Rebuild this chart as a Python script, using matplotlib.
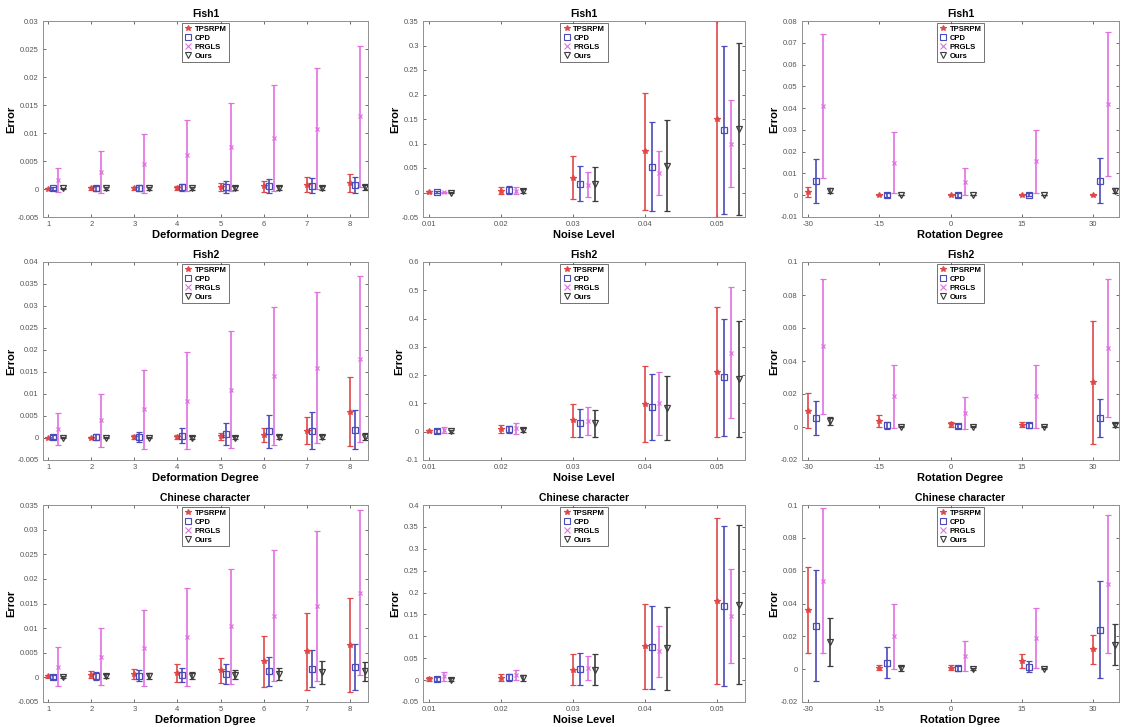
import numpy as np
import matplotlib
matplotlib.use('Agg')
import matplotlib.pyplot as plt
from matplotlib.lines import Line2D
from matplotlib.ticker import FuncFormatter

plt.rcParams['font.family'] = ['Liberation Sans', 'DejaVu Sans']

methods = ['TPSRPM', 'CPD', 'PRGLS', 'Ours']
colors = ['#e04848', '#4a4ab8', '#e070e0', '#3c3c3c']
markers = ['*', 's', 'x', 'v']

deform_levels = [1, 2, 3, 4, 5, 6, 7, 8]
noise_levels = [0.01, 0.02, 0.03, 0.04, 0.05]
rot_levels = [-30, -15, 0, 15, 30]

# rows: TPSRPM, CPD, PRGLS, Ours
fish1_def_mean = [[0.00002, 0.0001, 0.0001, 0.0002, 0.0003, 0.0005, 0.0008, 0.001],
                  [0.0001, 0.0001, 0.0002, 0.0003, 0.0003, 0.0005, 0.0006, 0.0007],
                  [0.0016, 0.003, 0.0045, 0.006, 0.0075, 0.0091, 0.0108, 0.013],
                  [0.0001, 0.0001, 0.0001, 0.0001, 0.0002, 0.0002, 0.0002, 0.0003]]
fish1_def_std = [[0.0001, 0.0002, 0.0003, 0.0004, 0.0007, 0.001, 0.0013, 0.0016],
                 [0.0003, 0.0004, 0.0005, 0.0006, 0.0011, 0.0012, 0.0014, 0.0015],
                 [0.0021, 0.0037, 0.0053, 0.0063, 0.0078, 0.0094, 0.0108, 0.0126],
                 [0.0001, 0.0002, 0.0002, 0.0002, 0.0003, 0.0003, 0.0004, 0.0004]]

fish1_noise_mean = [[0.001, 0.004, 0.03, 0.084, 0.15],
                    [0.001, 0.005, 0.018, 0.053, 0.128],
                    [0.0005, 0.004, 0.016, 0.04, 0.1],
                    [0.0, 0.003, 0.017, 0.055, 0.13]]
fish1_noise_std = [[0.002, 0.008, 0.044, 0.12, 0.2],
                   [0.003, 0.008, 0.036, 0.091, 0.172],
                   [0.001, 0.007, 0.026, 0.045, 0.088],
                   [0.002, 0.005, 0.035, 0.093, 0.175]]

fish1_rot_mean = [[0.0015, 0.0001, 0.0001, 0.0001, 0.0001],
                  [0.0065, 0.0002, 0.0002, 0.0003, 0.0067],
                  [0.041, 0.015, 0.0063, 0.0155, 0.042],
                  [0.0021, 0.0001, 0.0001, 0.0001, 0.002]]
fish1_rot_std = [[0.0025, 0.0002, 0.0002, 0.0002, 0.0002],
                 [0.0102, 0.0008, 0.0008, 0.0008, 0.0103],
                 [0.033, 0.014, 0.0063, 0.0145, 0.033],
                 [0.0012, 0.0002, 0.0002, 0.0002, 0.0012]]

fish2_def_mean = [[0.0, 0.0001, 0.0002, 0.0002, 0.0004, 0.0007, 0.0017, 0.006],
                  [0.0002, 0.0002, 0.0003, 0.0005, 0.0009, 0.0015, 0.0017, 0.0019],
                  [0.002, 0.004, 0.0065, 0.0085, 0.011, 0.014, 0.016, 0.018],
                  [0.0001, 0.0001, 0.0001, 0.0001, 0.0001, 0.0002, 0.0002, 0.0003]]
fish2_def_std = [[0.0001, 0.0002, 0.0004, 0.0005, 0.0008, 0.0016, 0.003, 0.0078],
                 [0.0004, 0.0006, 0.0011, 0.0017, 0.0026, 0.0038, 0.0042, 0.0044],
                 [0.0037, 0.006, 0.009, 0.011, 0.0133, 0.0157, 0.0172, 0.0188],
                 [0.0001, 0.0002, 0.0002, 0.0003, 0.0003, 0.0004, 0.0005, 0.0008]]

fish2_noise_mean = [[0.002, 0.01, 0.04, 0.098, 0.21],
                    [0.002, 0.008, 0.032, 0.087, 0.192],
                    [0.005, 0.012, 0.038, 0.1, 0.28],
                    [0.001, 0.006, 0.03, 0.083, 0.188]]
fish2_noise_std = [[0.004, 0.014, 0.058, 0.133, 0.23],
                   [0.006, 0.012, 0.05, 0.118, 0.208],
                   [0.01, 0.02, 0.05, 0.11, 0.23],
                   [0.004, 0.007, 0.048, 0.113, 0.205]]

fish2_rot_mean = [[0.01, 0.0035, 0.0018, 0.0015, 0.027],
                  [0.0055, 0.001, 0.0008, 0.001, 0.0055],
                  [0.049, 0.0185, 0.0085, 0.0185, 0.048],
                  [0.0035, 0.0002, 0.0002, 0.0002, 0.0012]]
fish2_rot_std = [[0.0105, 0.0035, 0.0015, 0.0015, 0.0375],
                 [0.0105, 0.0022, 0.0012, 0.0015, 0.0115],
                 [0.041, 0.019, 0.0098, 0.019, 0.042],
                 [0.0025, 0.0003, 0.0003, 0.0003, 0.0015]]

chn_def_mean = [[0.0002, 0.0005, 0.0006, 0.0009, 0.0014, 0.0033, 0.0053, 0.0066],
                [0.0001, 0.0002, 0.0003, 0.0005, 0.0007, 0.0012, 0.0018, 0.0021],
                [0.0022, 0.0042, 0.006, 0.0082, 0.0104, 0.0125, 0.0145, 0.0172],
                [0.0001, 0.0002, 0.0002, 0.0003, 0.0005, 0.0007, 0.001, 0.0012]]
chn_def_std = [[0.0003, 0.0007, 0.001, 0.0018, 0.0026, 0.0052, 0.0078, 0.0095],
               [0.0004, 0.0008, 0.0011, 0.0014, 0.0021, 0.0029, 0.0038, 0.0046],
               [0.004, 0.0058, 0.0077, 0.0099, 0.0117, 0.0133, 0.0152, 0.0168],
               [0.0002, 0.0004, 0.0006, 0.0007, 0.0009, 0.0012, 0.0024, 0.002]]

chn_noise_mean = [[0.002, 0.005, 0.024, 0.077, 0.18],
                  [0.002, 0.006, 0.025, 0.075, 0.17],
                  [0.009, 0.012, 0.027, 0.066, 0.146],
                  [0.001, 0.005, 0.024, 0.073, 0.172]]
chn_noise_std = [[0.004, 0.008, 0.036, 0.098, 0.19],
                 [0.005, 0.008, 0.037, 0.095, 0.183],
                 [0.01, 0.012, 0.027, 0.058, 0.107],
                 [0.004, 0.006, 0.035, 0.095, 0.182]]

chn_rot_mean = [[0.036, 0.001, 0.001, 0.0048, 0.012],
                [0.0265, 0.004, 0.0005, 0.0015, 0.024],
                [0.054, 0.02, 0.008, 0.019, 0.052],
                [0.0165, 0.0005, 0.0002, 0.0002, 0.015]]
chn_rot_std = [[0.026, 0.0015, 0.0015, 0.0042, 0.009],
               [0.034, 0.0095, 0.0015, 0.0035, 0.0295],
               [0.044, 0.02, 0.009, 0.0185, 0.042],
               [0.0145, 0.0015, 0.0005, 0.0004, 0.0125]]

titles = ['Fish1', 'Fish2', 'Chinese character']
xlabels = [['Deformation Degree', 'Noise Level', 'Rotation Degree'],
           ['Deformation Degree', 'Noise Level', 'Rotation Degree'],
           ['Deformation Dgree', 'Noise Level', 'Rotation Dgree']]

panels = [
    [(fish1_def_mean, fish1_def_std), (fish1_noise_mean, fish1_noise_std), (fish1_rot_mean, fish1_rot_std)],
    [(fish2_def_mean, fish2_def_std), (fish2_noise_mean, fish2_noise_std), (fish2_rot_mean, fish2_rot_std)],
    [(chn_def_mean, chn_def_std), (chn_noise_mean, chn_noise_std), (chn_rot_mean, chn_rot_std)],
]
xvals = [deform_levels, noise_levels, rot_levels]
offsets = [0.115, 0.001, 1.55]
xlims = [(0.88, 8.42), (0.0091, 0.0539), (-31.3, 35.5)]
ylims = [[(-0.005, 0.03, 0.005), (-0.05, 0.35, 0.05), (-0.01, 0.08, 0.01)],
         [(-0.005, 0.04, 0.005), (-0.1, 0.6, 0.1), (-0.02, 0.1, 0.02)],
         [(-0.005, 0.035, 0.005), (-0.05, 0.4, 0.05), (-0.02, 0.1, 0.02)]]

W, H = 1121, 727
col_px = [(43, 368), (423, 745), (802, 1119)]
row_px = [(21, 217), (262, 460), (505, 702)]

msize = {'*': 4, 's': 5, 'x': 3, 'v': 5}


def fmt_tick(v, pos):
    return '%g' % round(v, 4)


fig = plt.figure(figsize=(W / 100, H / 100), dpi=100)

for r in range(3):
    for c in range(3):
        x0, x1 = col_px[c]
        t0, t1 = row_px[r]
        ax = fig.add_axes([x0 / W, 1 - t1 / H, (x1 - x0) / W, (t1 - t0) / H])
        means, stds = panels[r][c]
        x = np.array(xvals[c], dtype=float)
        for k in range(4):
            m = markers[k]
            ax.errorbar(x + k * offsets[c], means[k], yerr=stds[k],
                        fmt=m, color=colors[k], ecolor=colors[k],
                        mfc='none' if m in ('s', 'v') else colors[k],
                        mec=colors[k], ms=msize[m],
                        elinewidth=1.2, capsize=2, capthick=1.0, mew=0.9)
        lo, hi, step = ylims[r][c]
        ax.set_xlim(*xlims[c])
        ax.set_ylim(lo, hi)
        ax.set_yticks(np.round(np.arange(lo, hi + step / 2, step), 4))
        ax.set_xticks(xvals[c])
        ax.yaxis.set_major_formatter(FuncFormatter(fmt_tick))
        ax.xaxis.set_major_formatter(FuncFormatter(fmt_tick))
        ax.tick_params(direction='in', length=2, width=0.6, labelsize=5.5,
                       colors='#555555', top=True, right=True, pad=3)
        for s in ax.spines.values():
            s.set_color('#909090')
            s.set_linewidth(0.7)
        ax.set_title(titles[r], fontsize=7.5, fontweight='bold', pad=3)
        ax.set_xlabel(xlabels[r][c], fontsize=8, fontweight='bold', labelpad=1)
        ax.set_ylabel('Error', fontsize=8, fontweight='bold', labelpad=1)

        handles = [Line2D([], [], linestyle='none', marker=markers[k], color=colors[k],
                          mfc='none' if markers[k] in ('s', 'v') else colors[k],
                          ms=5 if markers[k] in ('s', 'v') else 4, mew=0.8)
                   for k in range(4)]
        leg = ax.legend(handles, methods, loc='upper center',
                        prop={'weight': 'bold', 'size': 5.5}, frameon=True,
                        fancybox=False, handlelength=1, handletextpad=0.4,
                        borderpad=0.3, labelspacing=0.2, borderaxespad=0.3)
        leg.get_frame().set_edgecolor('#333333')
        leg.get_frame().set_linewidth(0.6)

fig.savefig('out.png', dpi=100)
